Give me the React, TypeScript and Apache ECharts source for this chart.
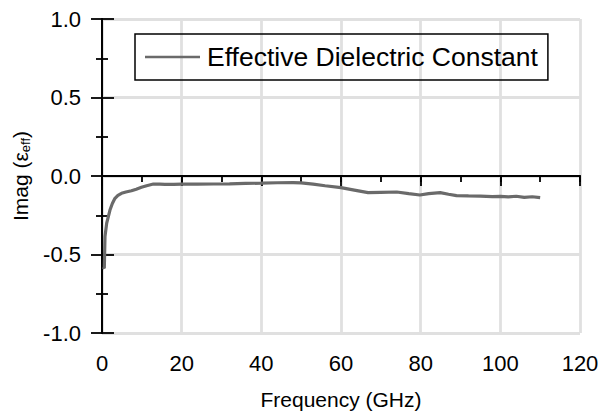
import React, { useEffect, useRef } from "react";
import * as echarts from "echarts";

const freqGHz = [0.3, 0.58, 0.75, 1.18, 2.0, 2.6, 3.26, 4.0, 4.9, 6.0, 7.4, 8.6, 9.9, 11.2, 12.9, 14.5, 15.8, 18, 20, 24, 28, 32, 36, 40, 44, 48, 50, 53, 56, 60, 63, 66.8, 70, 74, 77, 79.8, 82, 84.9, 87, 89, 92, 95, 98, 100, 102, 104, 106, 108, 110];
const imagEff = [-0.58, -0.588, -0.386, -0.3, -0.217, -0.175, -0.142, -0.123, -0.11, -0.102, -0.094, -0.084, -0.072, -0.062, -0.051, -0.052, -0.053, -0.053, -0.052, -0.052, -0.051, -0.05, -0.047, -0.046, -0.043, -0.042, -0.044, -0.052, -0.062, -0.074, -0.088, -0.106, -0.104, -0.102, -0.112, -0.121, -0.112, -0.106, -0.116, -0.125, -0.127, -0.128, -0.131, -0.13, -0.133, -0.129, -0.136, -0.132, -0.138];

const xTicks = { min: 0, max: 120, interval: 20 };
const yTicks = { min: -1, max: 1, interval: 0.5 };
const seriesName = "Effective Dielectric Constant";

export default function App() {
  const ref = useRef<HTMLDivElement>(null);
  useEffect(() => {
    if (!ref.current) return;
    const chart = echarts.init(ref.current, null, { renderer: "svg" });
    const font = "Liberation Sans, Arial, sans-serif";
    const axisLine = { show: true, lineStyle: { color: "#000", width: 1.8 } };
    const grid = { color: "#e0e0e0", width: 2.8 };
    chart.setOption({
      animation: false,
      backgroundColor: "#fff",
      grid: { left: 102, right: 28, top: 19, bottom: 83, containLabel: false },
      legend: {
        left: 135,
        top: 34,
        padding: [9.5, 10, 9.5, 10],
        borderColor: "#000",
        borderWidth: 1.5,
        itemWidth: 55,
        itemHeight: 2.5,
        itemGap: 0,
        icon: "rect",
        textStyle: { fontFamily: font, fontSize: 26.5, color: "#000", padding: [0, 0, 0, 2] },
        data: [{ name: seriesName, itemStyle: { color: "#6a6a6a" } }],
      },
      xAxis: [
        {
          type: "value",
          min: xTicks.min,
          max: xTicks.max,
          interval: xTicks.interval,
          position: "bottom",
          name: "Frequency (GHz)",
          nameLocation: "middle",
          nameGap: 56,
          nameTextStyle: { fontFamily: font, fontSize: 21, color: "#000" },
          axisLine,
          axisTick: { show: true, inside: false, length: 10, lineStyle: { color: "#000", width: 1.8 } },
          minorTick: { show: true, splitNumber: 2, length: 6, lineStyle: { color: "#000", width: 1.8 } },
          axisLabel: { fontFamily: font, fontSize: 22, color: "#000", margin: 19 },
          splitLine: { show: true, lineStyle: grid },
        },
        {
          type: "value",
          min: xTicks.min,
          max: xTicks.max,
          interval: xTicks.interval,
          position: "top",
          axisLine,
          axisTick: { show: true, inside: true, length: 6, lineStyle: { color: "#000", width: 1.8 } },
          axisLabel: { show: false },
          splitLine: { show: false },
        },
      ],
      yAxis: [
        {
          type: "value",
          min: yTicks.min,
          max: yTicks.max,
          interval: yTicks.interval,
          position: "left",
          name: "{n|Imag (ε}{s|eff}{n|)}",
          nameLocation: "middle",
          nameGap: 63,
          nameTextStyle: {
            fontFamily: font,
            color: "#000",
            rich: {
              n: { fontFamily: font, fontSize: 21, color: "#000" },
              s: { fontFamily: font, fontSize: 13, color: "#000", verticalAlign: "bottom", padding: [10, 0, 0, 0] },
            },
          },
          axisLine,
          axisTick: { show: true, inside: false, length: 11, lineStyle: { color: "#000", width: 1.8 } },
          minorTick: { show: true, splitNumber: 2, length: 6, lineStyle: { color: "#000", width: 1.8 } },
          axisLabel: {
            fontFamily: font,
            fontSize: 22,
            color: "#000",
            margin: 21,
            formatter: (v: number) => v.toFixed(1),
          },
          splitLine: { show: true, lineStyle: grid },
        },
        {
          type: "value",
          min: yTicks.min,
          max: yTicks.max,
          interval: yTicks.interval,
          position: "right",
          axisLine,
          axisTick: { show: true, inside: false, length: 12, lineStyle: { color: "#000", width: 1.8 } },
          minorTick: { show: true, splitNumber: 2, length: 6, lineStyle: { color: "#000", width: 1.8 } },
          axisLabel: { show: false },
          splitLine: { show: false },
        },
      ],
      series: [
        {
          name: seriesName,
          type: "line",
          xAxisIndex: 0,
          yAxisIndex: 0,
          data: freqGHz.map((f, i) => [f, imagEff[i]]),
          showSymbol: false,
          symbol: "none",
          lineStyle: { color: "#6a6a6a", width: 3.2 },
          itemStyle: { color: "#6a6a6a" },
        },
      ],
    });
    return () => chart.dispose();
  }, []);
  return <div ref={ref} style={{ position: "absolute", left: 0, top: 0, width: 608, height: 416 }} />;
}
